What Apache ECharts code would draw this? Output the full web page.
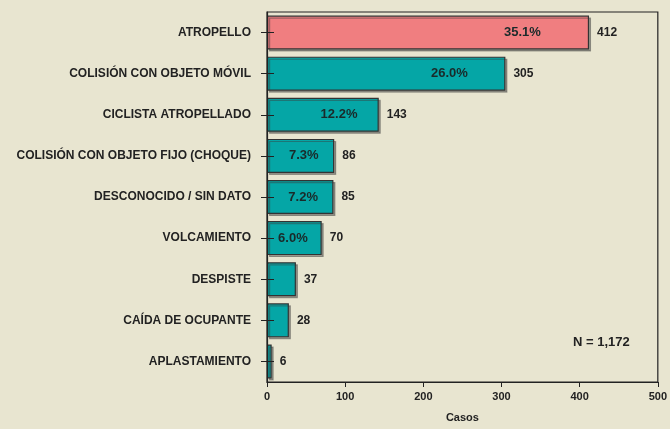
<!DOCTYPE html>
<html>
<head>
<meta charset="utf-8">
<script src="https://cdn.jsdelivr.net/npm/echarts@6/dist/echarts.min.js"></script>
<style>
  html, body { margin: 0; padding: 0; background: #E8E5D0; }
  #chart { width: 670px; height: 429px; }
</style>
</head>
<body>
<div id="chart"></div>
<script>
var categories = ['ATROPELLO', 'COLISIÓN CON OBJETO MÓVIL', 'CICLISTA ATROPELLADO',
    'COLISIÓN CON OBJETO FIJO (CHOQUE)', 'DESCONOCIDO / SIN DATO', 'VOLCAMIENTO',
    'DESPISTE', 'CAÍDA DE OCUPANTE', 'APLASTAMIENTO'];
var casos = [412, 305, 143, 86, 85, 70, 37, 28, 6];
var pctLabels = ['35.1%', '26.0%', '12.2%', '7.3%', '7.2%', '6.0%', '', '', ''];
var xTicks = [0, 100, 200, 300, 400, 500];
var totalText = 'N = 1,172';

var font = 'Liberation Sans, Arial, sans-serif';
var chart = echarts.init(document.getElementById('chart'));

// categorias de arriba hacia abajo
var cats = categories.slice().reverse();
var vals = casos.slice().reverse();
var pcts = pctLabels.slice().reverse();

var barData = vals.map(function (v) {
    return {
        value: v,
        itemStyle: { color: v === casos[0] ? '#F07E80' : '#05A6A6' }
    };
});

var pctData = vals.map(function (v, i) {
    return {
        value: v,
        label: {
            show: pcts[i] !== '',
            formatter: pcts[i],
            distance: 7 + v * 0.1
        }
    };
});

chart.setOption({
    backgroundColor: '#E8E5D0',
    animation: false,
    grid: {
        left: 267, right: 11, top: 12, bottom: 47,
        show: true, borderColor: '#222', borderWidth: 1.2
    },
    xAxis: {
        type: 'value',
        min: xTicks[0],
        max: xTicks[xTicks.length - 1],
        interval: 100,
        name: 'Casos',
        nameLocation: 'middle',
        nameGap: 30,
        nameTextStyle: { fontFamily: font, fontWeight: 'bold', fontSize: 11, color: '#222' },
        axisLine: { show: true, lineStyle: { color: '#222', width: 1.2 } },
        axisTick: { show: true, length: 5, lineStyle: { color: '#222' } },
        axisLabel: { fontFamily: font, fontWeight: 'bold', fontSize: 11, color: '#222', margin: 9 },
        splitLine: { show: false }
    },
    yAxis: [{
        type: 'category',
        data: cats,
        z: 5,
        axisLine: { show: true, lineStyle: { color: '#222', width: 1.2 } },
        axisTick: { show: true, alignWithLabel: true, length: 6, lineStyle: { color: '#222' } },
        axisLabel: { fontFamily: font, fontWeight: 'bold', fontSize: 12, color: '#222', margin: 16 }
    }, {
        type: 'category',
        data: cats,
        position: 'left',
        z: 5,
        axisLine: { show: false },
        axisTick: { show: true, inside: true, alignWithLabel: true, length: 7, lineStyle: { color: '#222' } },
        axisLabel: { show: false }
    }],
    series: [{
        type: 'bar',
        data: barData,
        barWidth: 34,
        itemStyle: {
            borderColor: '#333',
            borderWidth: 1.2,
            shadowColor: 'rgba(60,60,60,0.45)',
            shadowOffsetX: 2,
            shadowOffsetY: 2,
            shadowBlur: 0
        },
        label: {
            show: true,
            position: 'right',
            distance: 8,
            fontFamily: font,
            fontWeight: 'bold',
            fontSize: 12,
            color: '#222'
        }
    }, {
        type: 'bar',
        data: pctData,
        barWidth: 34,
        barGap: '-100%',
        itemStyle: { color: 'transparent' },
        silent: true,
        label: {
            show: true,
            position: 'insideRight',
            fontFamily: font,
            fontWeight: 'bold',
            fontSize: 13,
            color: '#1a2a2a'
        }
    }],
    graphic: [{
        type: 'text',
        left: 573,
        top: 336,
        style: {
            text: totalText,
            font: 'bold 13px ' + font,
            fill: '#222'
        }
    }]
});
</script>
</body>
</html>
